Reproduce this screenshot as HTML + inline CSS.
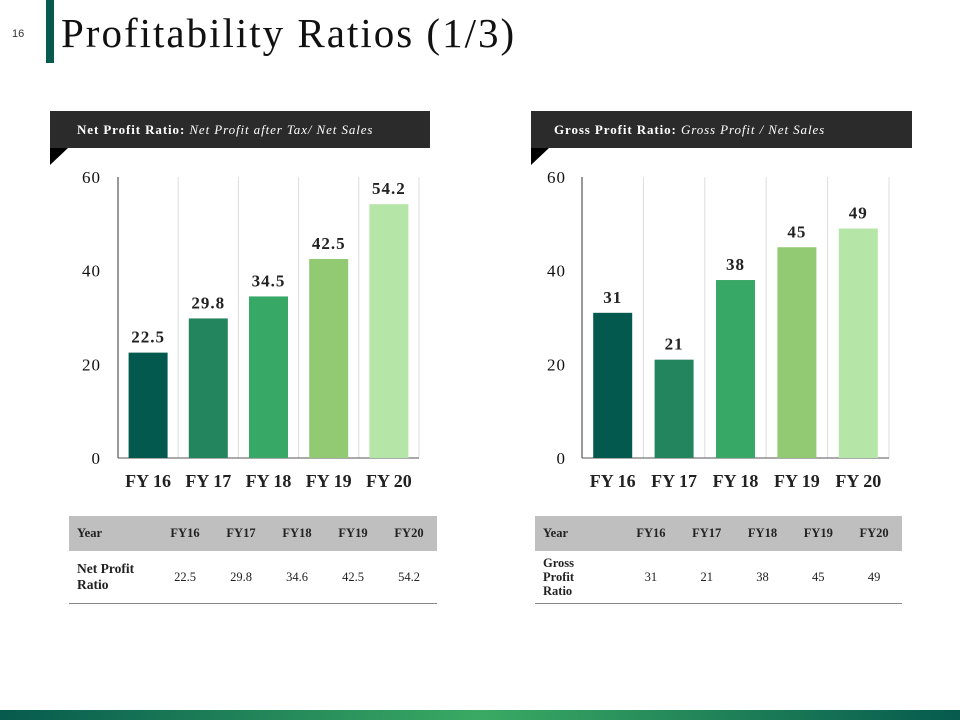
<!DOCTYPE html>
<html><head><meta charset="utf-8">
<style>
body{margin:0;width:960px;height:720px;background:#fff;position:relative;overflow:hidden;font-family:Georgia,"Liberation Serif",serif}
.abs{position:absolute}
table{border-collapse:collapse;font-family:Georgia,"Liberation Serif",serif;font-size:12.5px;color:#222}
th{background:#bfbfbf;height:35px;font-weight:bold;text-align:center;padding:0}
td{text-align:center;padding:0;height:52px}
tr.r td{border-bottom:1px solid #888}
</style></head><body>
<div class="abs" style="left:12px;top:28px;font:11px 'Liberation Sans',sans-serif;color:#333">16</div>
<div class="abs" style="left:46px;top:0;width:8px;height:63px;background:#065a4e"></div>
<div class="abs" style="left:61px;top:9px;font-size:41px;letter-spacing:2px;color:#111;white-space:nowrap">Profitability Ratios (1/3)</div>

<div class="abs" style="left:50px;top:111px;width:380px;height:37px;background:#2b2b2b;color:#fff;font-size:13px;letter-spacing:0.9px;line-height:37px;box-sizing:border-box;padding-left:27px;white-space:nowrap"><b>Net Profit Ratio:</b> <i>Net Profit after Tax/ Net Sales</i></div>
<div class="abs" style="left:50px;top:148px;width:0;height:0;border-top:17px solid #000;border-left:18px solid transparent;transform:scaleX(-1)"></div>
<div class="abs" style="left:531px;top:111px;width:381px;height:37px;background:#2b2b2b;color:#fff;font-size:13px;letter-spacing:0.9px;line-height:37px;box-sizing:border-box;padding-left:23px;white-space:nowrap"><b>Gross Profit Ratio:</b> <i>Gross Profit / Net Sales</i></div>
<div class="abs" style="left:531px;top:148px;width:0;height:0;border-top:17px solid #000;border-left:18px solid transparent;transform:scaleX(-1)"></div>

<svg class="abs" style="left:0;top:0" width="960" height="720">
<g id="c1"></g>
<g id="c2"></g>
</svg>

<table class="abs" style="left:69px;top:516px;width:368px">
<tr><th style="text-align:left;padding-left:8px;width:80px">Year</th><th>FY16</th><th>FY17</th><th>FY18</th><th>FY19</th><th>FY20</th></tr>
<tr class="r"><td style="text-align:left;padding-left:8px;font-weight:bold;font-size:13.5px;line-height:16px">Net Profit<br>Ratio</td><td>22.5</td><td>29.8</td><td>34.6</td><td>42.5</td><td>54.2</td></tr>
</table>
<table class="abs" style="left:535px;top:516px;width:367px">
<tr><th style="text-align:left;padding-left:8px;width:80px">Year</th><th>FY16</th><th>FY17</th><th>FY18</th><th>FY19</th><th>FY20</th></tr>
<tr class="r"><td style="text-align:left;padding-left:8px;font-weight:bold;line-height:14px">Gross<br>Profit<br>Ratio</td><td>31</td><td>21</td><td>38</td><td>45</td><td>49</td></tr>
</table>

<div class="abs" style="left:0;top:710px;width:960px;height:10px;background:linear-gradient(90deg,#065a4e,#3aaa63 50%,#065a4e)"></div>

<script>
const categories=["FY 16","FY 17","FY 18","FY 19","FY 20"];
const netValues=[22.5,29.8,34.5,42.5,54.2];
const netLabels=["22.5","29.8","34.5","42.5","54.2"];
const grossValues=[31,21,38,45,49];
const grossLabels=["31","21","38","45","49"];
const yTicks=[0,20,40,60];
const colors=["#03594d","#22855e","#37a866","#92ca73","#b5e6a8"];
const NS="http://www.w3.org/2000/svg";
function mk(g,t,a){const e=document.createElementNS(NS,t);for(const k in a)e.setAttribute(k,a[k]);g.appendChild(e);return e;}
function draw(id,x0,x1,vals,labels,tickX){
  const g=document.getElementById(id);
  const y0=458,yTop=177,ymax=60;
  const y=v=>y0-(v/ymax)*(y0-yTop);
  const bw=(x1-x0)/categories.length;
  const xs=i=>x0+i*bw;
  for(let i=0;i<=categories.length;i++){
    const l=mk(g,'line',{x1:xs(i),x2:xs(i),y1:yTop,y2:y0,stroke:i==0?'#333':'#ddd','stroke-width':1});
    
    
  }
  const ax=mk(g,'line',{x1:x0,x2:x1,y1:y0,y2:y0,stroke:'#555'});
  
  
  yTicks.forEach(t=>{
    const e=mk(g,'text',{x:tickX,y:y(t)+6,'text-anchor':'end','font-size':17,'letter-spacing':1,fill:'#111','font-family':'Georgia,"Liberation Serif",serif'});
    e.textContent=t;
    
    
  });
  vals.forEach((v,i)=>{
    const cx=xs(i)+bw/2;
    const r=mk(g,'rect',{x:cx-19.5,y:y(v),width:39,height:y0-y(v),fill:colors[i]});
    
    
    const t=mk(g,'text',{x:cx,y:y(v)-10,'text-anchor':'middle','font-size':17,'letter-spacing':1,'font-weight':'bold',fill:'#222','font-family':'Georgia,"Liberation Serif",serif'});
    t.textContent=labels[i];
    
    
    const c=mk(g,'text',{x:cx,y:487,'text-anchor':'middle','font-size':18,'font-weight':'bold',fill:'#222','font-family':'Georgia,"Liberation Serif",serif'});
    c.textContent=categories[i];
    
    
  });
}
draw('c1',118,419,netValues,netLabels,101);
draw('c2',582,889,grossValues,grossLabels,566);
</script>
</body></html>
